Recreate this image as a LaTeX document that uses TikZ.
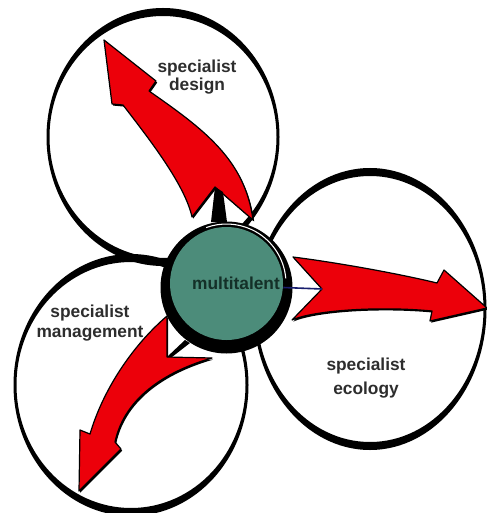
\documentclass[tikz,border=0pt]{standalone}
\usepackage{fontspec}
\setmainfont{Liberation Sans}
\usetikzlibrary{positioning}
\definecolor{hubgreen}{RGB}{76,140,122}
\definecolor{hubtext}{RGB}{20,48,40}
\definecolor{arrowred}{RGB}{236,0,10}
\definecolor{labelgray}{RGB}{45,45,45}
\definecolor{notchblue}{RGB}{25,30,110}
\tikzset{
  ring/.style={fill=black, even odd rule},
  fat arrow/.style={
    fill=arrowred,
    draw=black,
    line width=0.9pt,
    line join=round,
    preaction={fill=black, transform canvas={shift={(0.9pt,-1.2pt)}}},
  },
  hub/.style={
    circle,
    fill=hubgreen,
    minimum size=84.75pt,
    inner sep=0pt,
  },
  label text/.style={
    font=\bfseries\fontsize{13}{12}\selectfont,
    text=labelgray,
    align=center,
  },
}

\begin{document}
\begin{tikzpicture}[x=0.75pt, y=-0.75pt]
        \useasboundingbox (0,0) rectangle (486,513);
        \fill[white] (0,0) rectangle (486,513);

        \coordinate (design) at (163,137);
        \coordinate (ecology) at (370,309);
        \coordinate (management) at (131,385);

        \fill[ring] (design) ellipse[x radius=116.5, y radius=129] (design) ellipse[x radius=113.5, y radius=121];
        \fill[ring] (ecology) ellipse[x radius=116.5, y radius=141] (ecology) ellipse[x radius=113.5, y radius=133];
        \fill[ring] (management) ellipse[x radius=117.5, y radius=131] (management) ellipse[x radius=114.5, y radius=123];

        \draw[fat arrow] (104,40) -- (156,81) -- (149,91)
          .. controls (205,130) and (245,160) .. (253,220)
          -- (215,187) -- (192,217)
          .. controls (185,185) and (150,140) .. (123,105)
          -- (112,104) -- cycle;
        \fill (215,187) -- (223,192) -- (227,222) -- (211,222) -- cycle;

        \draw[fat arrow] (487,308) -- (444,270) -- (437,283)
          .. controls (400,274) and (340,263) .. (293,257)
          -- (322,289) -- (292,320)
          .. controls (315,310) and (380,306) .. (432,311)
          -- (430,321) -- cycle;
        \coordinate (econotch) at (322,289);

        \draw[fat arrow] (79,491) -- (80,430) -- (90,434)
          .. controls (103,390) and (132,346) .. (167,316)
          -- (167,357) -- (212,358)
          .. controls (170,370) and (125,395) .. (115,442)
          -- (121,449) -- cycle;
        \fill (167,357) -- (185,340) -- (190,343) -- (172,357) -- cycle;

        \fill (226.5,287.5) circle[radius=66];
        \node[hub] (hub) at (226.5,283.5) {};
        \draw[white, line width=0.8pt] (hub.center) ++(-5:59.5) arc[start angle=-5, end angle=-110, radius=59.5];
        \draw[notchblue, line width=1.2pt] ([yshift=-3pt]hub.east) -- (econotch);

        \node[label text, text=hubtext] (hublbl) at (236,283) {multitalent};
        \node[label text] (designlbl) at (197,77) {specialist\\design};
        \node[label text] (ecologylbl) at (366,378) {specialist\\[5pt]ecology};
        \node[label text] (mgmtlbl) at (90,323) {specialist\\[3.5pt]management};
      \end{tikzpicture}
\end{document}
